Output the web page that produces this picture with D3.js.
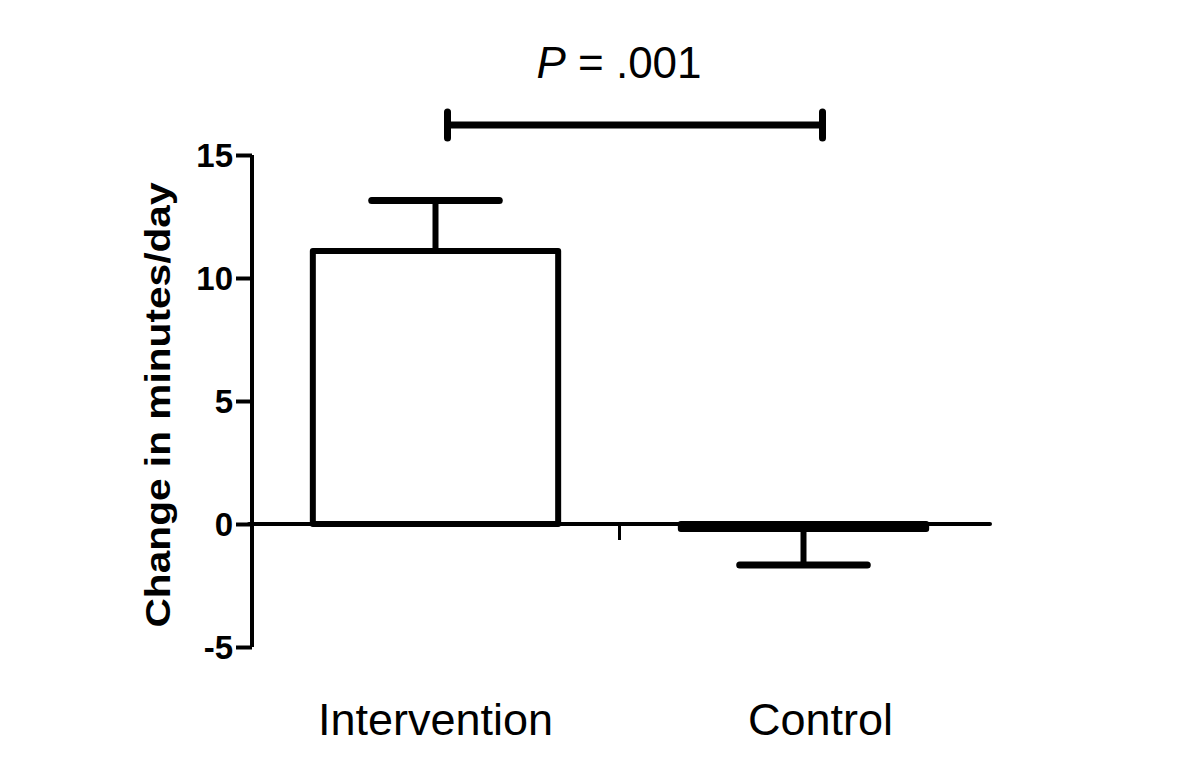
<!DOCTYPE html>
<html lang="en">
<head>
    <meta charset="UTF-8">
    <title>Change in minutes/day</title>
    <script src="https://d3js.org/d3.v7.min.js"></script>
    <style>
        body { margin: 0; background: #fff; }
        text { font-family: "Liberation Sans", Arial, sans-serif; fill: #000; }
    </style>
</head>
<body>

    <script>

        var categories = ["Intervention", "Control"];
        var means = [11.1, -0.2];
        var errors = [2.05, 1.47];
        var yTicks = [-5, 0, 5, 10, 15];
        var pLabel = ".001";

        var width = 1200;
        var height = 777;

        var x = d3.scaleBand()
            .domain(categories)
            .range([251.5, 987.5])
            .paddingInner(1 / 3)
            .paddingOuter(1 / 6);

        var y = d3.scaleLinear()
            .domain([-5, 15])
            .range([647, 155]);

        var svg = d3.select("body")
            .append("svg")
            .attr("width", width)
            .attr("height", height);

        // y axis
        var yAxis = d3.axisLeft(y)
            .tickValues(yTicks)
            .tickFormat(function (d) { return String(d); })
            .tickSize(16)
            .tickSizeOuter(0)
            .tickPadding(3);

        var gy = svg.append("g")
            .attr("transform", "translate(252, 0)")
            .call(yAxis);
        gy.attr("font-size", null);
        gy.select(".domain").attr("stroke", "#000").attr("stroke-width", 4)
            .attr("d", "M0," + y(15) + "V" + y(-5));
        gy.selectAll(".tick line").attr("stroke", "#000").attr("stroke-width", 4);
        gy.selectAll(".tick text")
            .style("font-size", "33px")
            .style("font-weight", "bold")
            .attr("dy", "0.36em");

        // zero line
        svg.append("line")
            .attr("x1", 249).attr("x2", 990)
            .attr("y1", y(0)).attr("y2", y(0))
            .attr("stroke", "#000").attr("stroke-width", 4)
            .attr("stroke-linecap", "round");

        // middle tick between categories
        var mid = (x(categories[0]) + x(categories[1]) + x.bandwidth()) / 2;
        svg.append("line")
            .attr("x1", mid).attr("x2", mid)
            .attr("y1", y(0)).attr("y2", y(0) + 16)
            .attr("stroke", "#000").attr("stroke-width", 3);

        // error bars
        var bars = svg.append("g");
        categories.forEach(function (c, i) {
            var cx = x(c) + x.bandwidth() / 2;
            var end = means[i] >= 0 ? means[i] + errors[i] : means[i] - errors[i];
            var half = x.bandwidth() * 0.26;
            bars.append("line")
                .attr("x1", cx).attr("x2", cx)
                .attr("y1", y(means[i])).attr("y2", y(end))
                .attr("stroke", "#000").attr("stroke-width", 6);
            bars.append("line")
                .attr("x1", cx - half).attr("x2", cx + half)
                .attr("y1", y(end)).attr("y2", y(end))
                .attr("stroke", "#000").attr("stroke-width", 7)
                .attr("stroke-linecap", "round");
        });

        // bars
        bars.selectAll("rect")
            .data(categories)
            .enter()
                .append("rect")
                .attr("x", function (d) { return x(d); })
                .attr("width", x.bandwidth())
                .attr("y", function (d, i) { return y(Math.max(0, means[i])); })
                .attr("height", function (d, i) { return Math.abs(y(means[i]) - y(0)); })
                .attr("fill", "#fff")
                .attr("stroke", "#000")
                .attr("stroke-width", 6)
                .attr("stroke-linejoin", "round");

        // category labels
        svg.selectAll(".cat")
            .data(categories)
            .enter()
                .append("text")
                .attr("class", "cat")
                .attr("x", function (d) { return x(d) + x.bandwidth() / 2 + (d === "Control" ? 17 : 0); })
                .attr("y", 735)
                .attr("text-anchor", "middle")
                .style("font-size", "45px")
                .text(function (d) { return d; });

        // y axis title
        svg.append("text")
            .attr("transform", "translate(170, 405) rotate(-90)")
            .attr("text-anchor", "middle")
            .attr("textLength", 445)
            .attr("lengthAdjust", "spacingAndGlyphs")
            .style("font-size", "35px")
            .style("font-weight", "bold")
            .text("Change in minutes/day");

        // significance bracket
        var bx1 = x(categories[0]) + x.bandwidth() / 2 + 12;
        var bx2 = x(categories[1]) + x.bandwidth() / 2 + 19;
        var br = svg.append("g")
            .attr("stroke", "#000")
            .attr("stroke-width", 7)
            .attr("stroke-linecap", "round");
        br.append("line").attr("x1", bx1).attr("x2", bx2).attr("y1", 125).attr("y2", 125);
        br.append("line").attr("x1", bx1).attr("x2", bx1).attr("y1", 112).attr("y2", 138);
        br.append("line").attr("x1", bx2).attr("x2", bx2).attr("y1", 112).attr("y2", 138);

        var pt = svg.append("text")
            .attr("x", (bx1 + bx2) / 2 - 16)
            .attr("y", 78)
            .attr("text-anchor", "middle")
            .style("font-size", "44px");
        pt.append("tspan").style("font-style", "italic").text("P");
        pt.append("tspan").text(" = " + pLabel);

    </script>

</body>
</html>
